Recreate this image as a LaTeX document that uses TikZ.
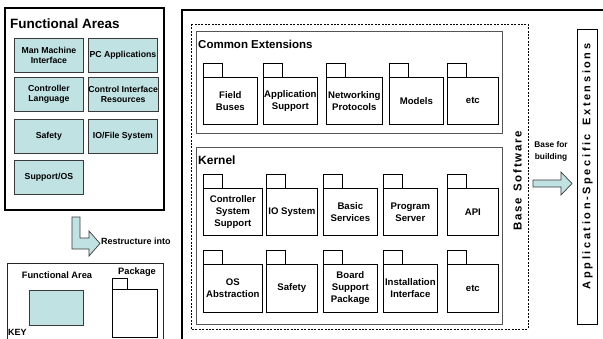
\documentclass[tikz,border=0pt]{standalone}
\usepackage{fontspec}
\setmainfont{Liberation Sans}
\definecolor{areafill}{HTML}{C1E2E3}
\definecolor{areaedge}{HTML}{3A3A3A}
\definecolor{groupedge}{HTML}{555555}

% letter-spaced words: write spaces as ~
\makeatletter
\newdimen\lsgap \lsgap=2.6pt
\def\lsword#1{\lsword@#1\@nil}
\def\lsword@#1{\ifx#1\@nil\else#1\kern\lsgap\expandafter\lsword@\fi}
\makeatother

\tikzset{
  panel/.style={draw=black, line width=2.6pt},
  area/.style={draw=areaedge, fill=areafill, line width=0.8pt, anchor=north west,
    minimum width=69pt, minimum height=34pt, inner sep=0pt, align=center,
    font=\fontsize{8.7}{10.5}\selectfont\bfseries},
  pkg/.style={draw=black, fill=white, line width=0.7pt, anchor=north west,
    minimum height=47pt, inner sep=0pt, align=center,
    font=\fontsize{9.6}{12}\selectfont\bfseries},
  pkgtab/.style={draw=black, fill=white, line width=0.7pt},
  group/.style={draw=groupedge, line width=1pt},
  title/.style={anchor=west, inner sep=0pt, font=\fontsize{11.5}{14}\selectfont\bfseries},
  label/.style={inner sep=0pt, align=center, font=\fontsize{9}{11}\selectfont\bfseries},
  blockarrow/.style={draw=areaedge, fill=areafill, line width=0.7pt, line join=miter},
}

\begin{document}
\begin{tikzpicture}[x=1pt, y=-1pt]
\useasboundingbox (0,0) rectangle (603,338);
\clip (0,0) rectangle (603,338);

% ---------- functional areas ----------
\draw[panel] (5,8) rectangle (164,210);
\node[title, font=\fontsize{13.5}{15}\selectfont\bfseries] (fatitle) at (10,24) {Functional Areas};
\node[area] (mmi) at (14,38)  {Man Machine\\Interface};
\node[area] (pca) at (88,38)  {PC Applications};
\node[area] (cl)  at (14,77)  {Controller\\Language};
\node[area] (cir) at (88,77)  {Control Interface\\Resources};
\node[area] (saf) at (14,119) {Safety};
\node[area] (iof) at (88,119) {IO/File System};
\node[area] (sos) at (14,160) {Support/OS};

% restructure arrow
\draw[blockarrow] (72,217) -- (80,217) -- (80,238) -- (89,238) -- (89,231)
  -- (100,243.5) -- (89,256) -- (89,249) -- (72,249) -- cycle;
\node[label, anchor=west] (restr) at (101,241) {Restructure into};

% ---------- key ----------
\draw[line width=0.8pt, draw=black!85] (7,345) -- (7,263) -- (163,263) -- (163,345);
\node[label, font=\fontsize{9.3}{11}\selectfont\bfseries] (keyarea) at (57,275) {Functional Area};
\node[area, minimum width=54pt, minimum height=35pt] (keybox) at (29,290) {};
\node[label, font=\fontsize{9.3}{11}\selectfont\bfseries] (keypkg) at (137,272) {Package};
\node[pkg, minimum width=45pt, minimum height=48pt] (keypk) at (112,289) {};
\draw[pkgtab] (keypk.north west) rectangle ++(15,-11);
\node[anchor=north west, inner sep=0pt, font=\fontsize{9}{11}\selectfont\bfseries] (keylbl) at (8,329) {KEY};

% ---------- base software panel ----------
\draw[panel] (182,345) -- (182,10) -- (610,10);
\draw[line width=0.7pt, dash pattern=on 2pt off 1.4pt] (191,24) rectangle (528,329);

% common extensions
\draw[group] (196,31) rectangle (502,133);
\node[title] (cetitle) at (198,44) {Common Extensions};
\node[pkg, minimum width=54pt] (fb) at (203,77) {Field\\Buses};
\node[pkg, minimum width=54pt] (as) at (263,77) {Application\\Support};
\node[pkg, minimum width=56pt] (np) at (326,77) {Networking\\Protocols};
\node[pkg, minimum width=54pt] (mo) at (389,77) {Models};
\node[pkg, minimum width=51pt] (ce) at (447,77) {etc};

% kernel
\draw[group] (196,147) rectangle (502,324);
\node[title, font=\fontsize{12}{14}\selectfont\bfseries] (ktitle) at (198,160) {Kernel};
\node[pkg, minimum width=59pt] (css) at (203,188) {Controller\\System\\Support};
\node[pkg, minimum width=51pt] (ios) at (266,188) {IO System};
\node[pkg, minimum width=54pt] (bsv) at (323,188) {Basic\\Services};
\node[pkg, minimum width=54pt] (psv) at (383,188) {Program\\Server};
\node[pkg, minimum width=51pt] (api) at (447,188) {API};
\node[pkg, minimum width=59pt, minimum height=48pt] (osa) at (203,264) {OS\\Abstraction};
\node[pkg, minimum width=51pt, minimum height=48pt] (ksf) at (266,264) {Safety};
\node[pkg, minimum width=54pt, minimum height=48pt] (bsp) at (323,264) {Board\\Support\\Package};
\node[pkg, minimum width=54pt, minimum height=48pt] (ins) at (383,264) {Installation\\Interface};
\node[pkg, minimum width=51pt, minimum height=48pt] (ke) at (447,264) {etc};

% package tabs
\foreach \p in {fb,as,np,mo,ce,css,ios,bsv,psv,api,osa,ksf,bsp,ins,ke}
  \draw[pkgtab] (\p.north west) rectangle ++(19,-13.5);

\node[inner sep=0pt, rotate=90, font=\fontsize{11.5}{12}\selectfont\bfseries] (bsw) at (517.5,180)
  {\lsgap=1.7pt\lsword{Base~Software}};

% base-for-building arrow
\node[label, font=\fontsize{8.3}{12}\selectfont\bfseries] (bfb) at (551,151) {Base for\\building};
\draw[blockarrow] (533,180) -- (561,180) -- (561,172) -- (572,183.5) -- (561,195)
  -- (561,187) -- (533,187) -- cycle;

% application-specific extensions
\draw[line width=0.8pt] (577,29) rectangle (597,324);
\node[inner sep=0pt, rotate=90, font=\fontsize{11}{12}\selectfont\bfseries] (appx) at (587.5,165)
  {\lsword{Application-Specific~Extensions}};
\end{tikzpicture}
\end{document}
